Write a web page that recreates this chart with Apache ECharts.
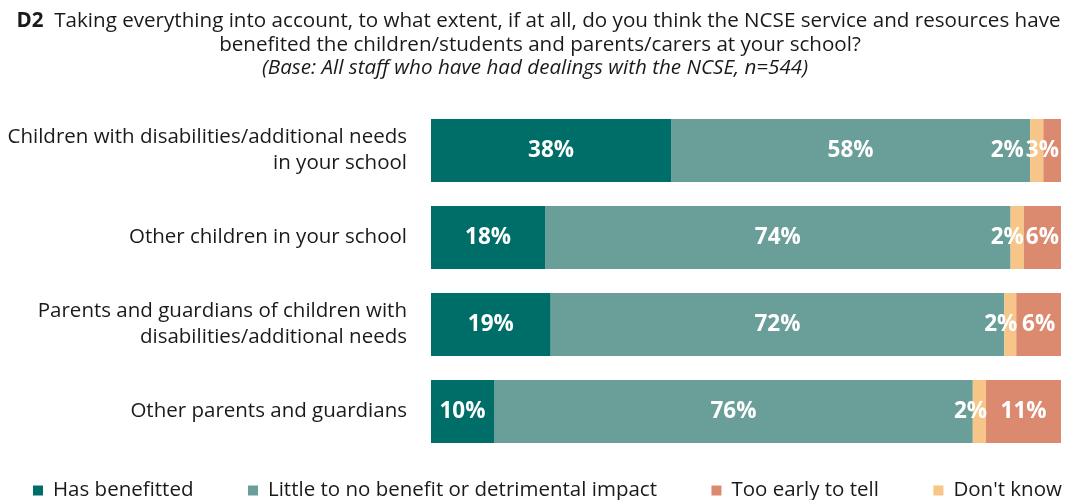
<!DOCTYPE html>
<html><head><meta charset="utf-8">
<script src="https://cdn.jsdelivr.net/npm/echarts@6/dist/echarts.min.js"></script>
<style>html,body{margin:0;padding:0;background:#fff}#c{width:1073px;height:500px}</style>
</head><body><div id="c"></div>
<script>
const categories = [
  "Children with disabilities/additional needs\nin your school",
  "Other children in your school",
  "Parents and guardians of children with\ndisabilities/additional needs",
  "Other parents and guardians"
];
// bar lengths (share of respondents, %)
const hasBenefitted = [38.1, 18.1, 19.0, 10.0];
const littleBenefit = [57.0, 73.9, 72.0, 76.0];
const dontKnow = [2.1, 2.1, 1.9, 2.1];
const tooEarly = [2.9, 5.9, 7.1, 11.9];
// printed (rounded) labels
const hasBenefittedLabel = [38, 18, 19, 10];
const littleBenefitLabel = [58, 74, 72, 76];
const dontKnowLabel = [2, 2, 2, 2];
const tooEarlyLabel = [3, 6, 6, 11];
const seriesNames = ["Has benefitted", "Little to no benefit or detrimental impact", "Too early to tell", "Don't know"];
const titleLines = [
  "Taking everything into account, to what extent, if at all, do you think the NCSE service and resources have",
  "benefited the children/students and parents/carers at your school?",
  "(Base: All staff who have had dealings with the NCSE, n=544)"
];

const FONT = "Open Sans";
const LABEL_SIZE = 22.5;
const LABEL_FONT = "bold " + LABEL_SIZE + "px '" + FONT + "'";
const GRID_LEFT = 431, GRID_RIGHT = 12, W = 1073;
const gridRightPx = W - GRID_RIGHT;

const mk = (vals, labels) => vals.map((v, i) => ({ value: v, lab: labels[i] }));

const ctx = document.createElement('canvas').getContext('2d');
function textW(t) { ctx.font = LABEL_FONT; return ctx.measureText(t).width; }

function salmonLeft(barLeft, barRight, w) {
  let left = (barLeft + barRight) / 2 - w / 2;
  if (left + w > barRight - 2) left = barRight - 2 - w;
  return left;
}

const lbl = {
  show: true, color: '#fff', fontFamily: FONT, fontWeight: 'bold', fontSize: LABEL_SIZE,
  formatter: p => p.data.lab + '%'
};
const TITLE_SIZE = 20.6;
const chart = echarts.init(document.getElementById('c'), null, { renderer: 'canvas' });
chart.setOption({
  animation: false,
  graphic: [
    { type: 'text', x: 538.5, y: 21,
      style: { text: '{b|D2}  ' + titleLines[0], align: 'center', verticalAlign: 'middle', fontFamily: FONT, fontSize: TITLE_SIZE, fill: '#1a1a1a',
        rich: { b: { fontFamily: FONT, fontSize: TITLE_SIZE, fontWeight: 'bold', fill: '#1a1a1a' } } } },
    { type: 'text', x: 540, y: 45,
      style: { text: titleLines[1], align: 'center', verticalAlign: 'middle', fontFamily: FONT, fontSize: TITLE_SIZE, fill: '#1a1a1a' } },
    { type: 'text', x: 535, y: 68,
      style: { text: titleLines[2], align: 'center', verticalAlign: 'middle', fontFamily: FONT, fontSize: TITLE_SIZE, fontStyle: 'italic', fill: '#1a1a1a' } }
  ],
  legend: {
    data: seriesNames, top: 475, left: 28, itemWidth: 10, itemHeight: 10, itemGap: 54.5,
    icon: 'rect',
    textStyle: { fontFamily: FONT, fontSize: 20.5, color: '#1a1a1a', padding: [0, 0, 0, 5] }
  },
  grid: { left: GRID_LEFT, right: GRID_RIGHT, top: 107, bottom: 45, containLabel: false },
  xAxis: { type: 'value', min: 0, max: 100, show: false },
  yAxis: {
    type: 'category', data: categories, inverse: true,
    axisLine: { show: false }, axisTick: { show: false },
    axisLabel: { fontFamily: FONT, fontSize: 20.5, color: '#1a1a1a', lineHeight: 26, margin: 24, align: 'right' }
  },
  series: [
    { name: seriesNames[0], type: 'bar', stack: 's', barWidth: '72.4%', data: mk(hasBenefitted, hasBenefittedLabel),
      itemStyle: { color: '#006e68' }, label: Object.assign({ position: 'inside' }, lbl) },
    { name: seriesNames[1], type: 'bar', stack: 's', data: mk(littleBenefit, littleBenefitLabel),
      itemStyle: { color: '#6a9f99' }, label: Object.assign({ position: 'inside' }, lbl) },
    { name: seriesNames[3], type: 'bar', stack: 's', data: mk(dontKnow, dontKnowLabel),
      itemStyle: { color: '#f6c587' }, label: Object.assign({ position: 'insideRight', distance: 0 }, lbl),
      labelLayout: function (p) {
        const i = p.dataIndex;
        const right = p.rect.x + p.rect.width;
        const sw = textW(tooEarlyLabel[i] + '%');
        const sLeft = salmonLeft(right, gridRightPx, sw);
        const x = Math.min(right + 1, sLeft - 2);
        return { x: x, y: p.rect.y + p.rect.height / 2, align: 'right', verticalAlign: 'middle' };
      } },
    { name: seriesNames[2], type: 'bar', stack: 's', data: mk(tooEarly, tooEarlyLabel),
      itemStyle: { color: '#db8a70' }, label: Object.assign({ position: 'inside' }, lbl),
      labelLayout: function (p) {
        const w = p.labelRect.width;
        const left = salmonLeft(p.rect.x, p.rect.x + p.rect.width, w);
        return { x: left, y: p.rect.y + p.rect.height / 2, align: 'left', verticalAlign: 'middle' };
      } }
  ]
});
</script></body></html>
